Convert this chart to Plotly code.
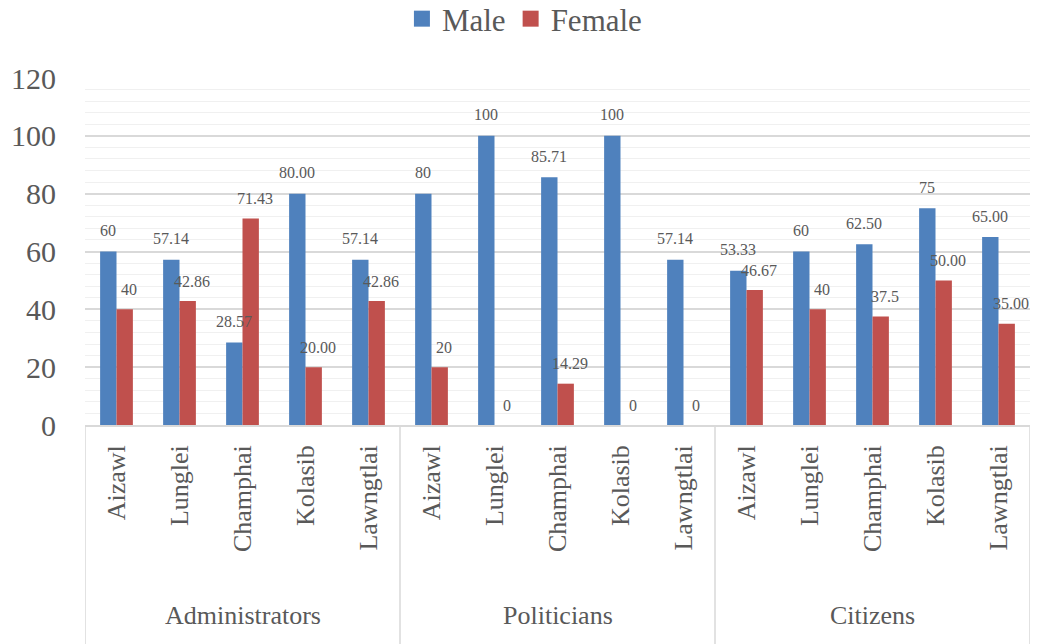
import plotly.graph_objects as go

groups = ["Administrators", "Politicians", "Citizens"]
districts = ["Aizawl", "Lunglei", "Champhai", "Kolasib", "Lawngtlai"]

male = [60, 57.14, 28.57, 80.00, 57.14,
        80, 100, 85.71, 100, 57.14,
        53.33, 60, 62.50, 75, 65.00]
female = [40, 42.86, 71.43, 20.00, 42.86,
          20, 0, 14.29, 0, 0,
          46.67, 40, 37.5, 50.00, 35.00]
male_labels = ["60", "57.14", "28.57", "80.00", "57.14",
               "80", "100", "85.71", "100", "57.14",
               "53.33", "60", "62.50", "75", "65.00"]
female_labels = ["40", "42.86", "71.43", "20.00", "42.86",
                 "20", "0", "14.29", "0", "0",
                 "46.67", "40", "37.5", "50.00", "35.00"]

FONT = "Liberation Serif"
GREY = "#595959"
BLUE = "#4F81BD"
RED = "#C0504D"

cats = [d for g in groups for d in districts]
xs = list(range(len(cats)))
bargap = 0.48
half = (1 - bargap) / 4

fig = go.Figure()
fig.add_trace(go.Bar(x=xs, y=male, name="Male", showlegend=False,
                     marker=dict(color=BLUE, line=dict(width=0))))
fig.add_trace(go.Bar(x=xs, y=female, name="Female", showlegend=False,
                     marker=dict(color=RED, line=dict(width=0))))
# legend entries with larger square swatches
fig.add_trace(go.Scatter(x=[None], y=[None], mode="markers", name="Male",
                         marker=dict(symbol="square", size=16, color=BLUE)))
fig.add_trace(go.Scatter(x=[None], y=[None], mode="markers", name="Female",
                         marker=dict(symbol="square", size=16, color=RED)))

anns = []
for i in xs:
    anns.append(dict(x=i - half, y=male[i], text=male_labels[i], showarrow=False,
                     yshift=21, xref="x", yref="y", font=dict(family=FONT, size=16, color=GREY)))
    anns.append(dict(x=i + half, y=female[i], text=female_labels[i], showarrow=False,
                     yshift=20, xshift=4, xref="x", yref="y", font=dict(family=FONT, size=16, color=GREY)))

n = len(districts)
for gi, g in enumerate(groups):
    anns.append(dict(x=gi * n + (n - 1) / 2, y=-0.55, xref="x", yref="paper", text=g,
                     showarrow=False, yanchor="middle",
                     font=dict(family=FONT, size=26, color=GREY)))

shapes = []
for k in range(len(groups) + 1):
    shapes.append(dict(type="line", xref="x", yref="paper", x0=k * n - 0.5, x1=k * n - 0.5,
                       y0=0, y1=-0.64, line=dict(color="#D9D9D9", width=1.5)))

fig.update_layout(
    width=1040, height=644,
    margin=dict(l=85, r=10, t=78, b=219, autoexpand=False),
    paper_bgcolor="white", plot_bgcolor="white",
    barmode="group", bargap=bargap, bargroupgap=0,
    font=dict(family=FONT, color=GREY),
    legend=dict(orientation="h", x=0.465, xanchor="center", y=1.17, yanchor="middle",
                font=dict(family=FONT, size=31, color=GREY),
                itemwidth=30, tracegroupgap=0),
    annotations=anns,
    shapes=shapes,
    showlegend=True,
)
fig.update_xaxes(
    range=[-0.5, len(cats) - 0.5],
    tickvals=xs, ticktext=cats, tickangle=-90,
    tickfont=dict(family=FONT, size=26, color=GREY),
    showgrid=False, zeroline=False,
    showline=True, linecolor="#D9D9D9", linewidth=1.5,
    ticks="", ticklabelstandoff=8,
)
fig.update_yaxes(
    range=[0, 120], dtick=20,
    tickfont=dict(family=FONT, size=30, color=GREY),
    showgrid=True, gridcolor="#D9D9D9", gridwidth=1.5,
    minor=dict(dtick=4, showgrid=True, gridcolor="#F0F0F0", gridwidth=1),
    zeroline=False, showline=False, ticks="", ticklabelstandoff=28,
)

fig.write_html("out.html")
